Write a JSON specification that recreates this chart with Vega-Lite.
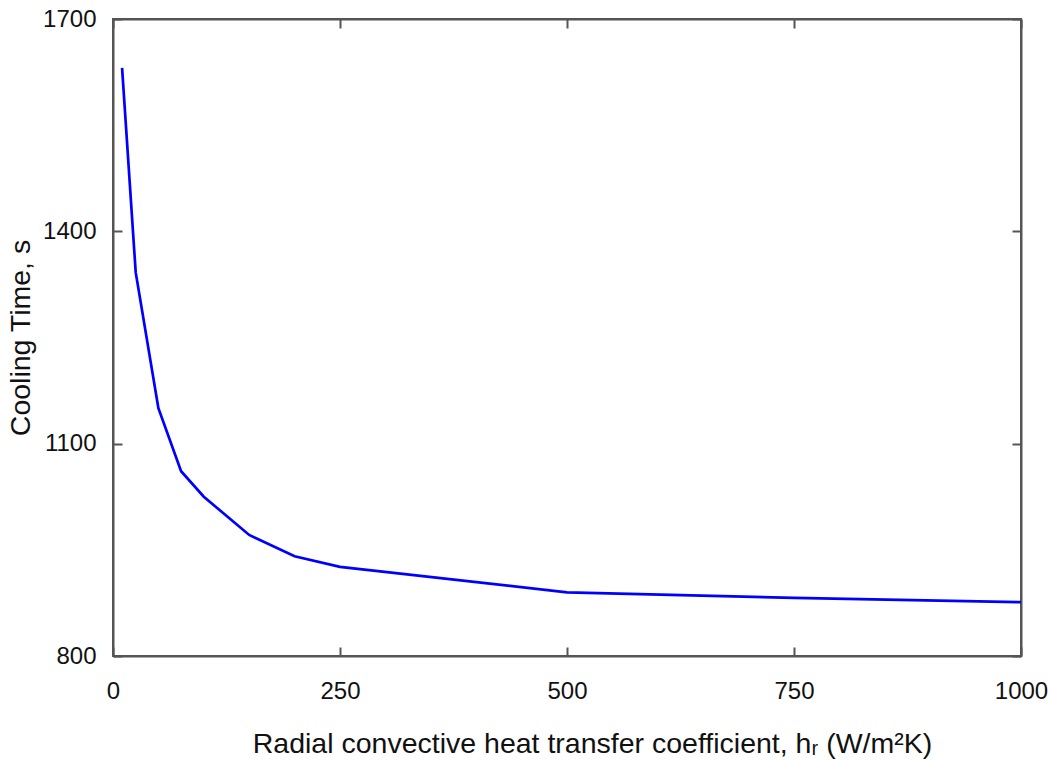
{
  "$schema": "https://vega.github.io/schema/vega-lite/v6.json",
  "width": 908,
  "height": 637,
  "autosize": {"type": "none"},
  "padding": {"left": 113, "top": 19, "right": 27, "bottom": 105},
  "background": "white",
  "config": {
    "font": "Liberation Sans",
    "view": {"stroke": "#555555", "strokeWidth": 2},
    "axis": {
      "grid": false,
      "labelFlush": false,
      "domainColor": "#555555",
      "domainWidth": 2,
      "tickColor": "#555555",
      "tickWidth": 2,
      "tickSize": -9,
      "labelFont": "Liberation Sans",
      "labelFontSize": 24,
      "labelColor": "#111111",
      "titleFont": "Liberation Sans",
      "titleFontSize": 28.5,
      "titleFontWeight": "normal",
      "titleColor": "#111111"
    }
  },
  "data": {
    "values": [
      {"h": 10, "t": 1631},
      {"h": 25, "t": 1342},
      {"h": 50, "t": 1150},
      {"h": 75, "t": 1061},
      {"h": 100, "t": 1025},
      {"h": 150, "t": 971},
      {"h": 200, "t": 941},
      {"h": 250, "t": 926},
      {"h": 500, "t": 890},
      {"h": 750, "t": 882},
      {"h": 1000, "t": 876}
    ]
  },
  "resolve": {"axis": {"x": "independent", "y": "independent"}},
  "layer": [
    {
      "mark": {"type": "line", "color": "#0000ff", "strokeWidth": 2.7},
      "encoding": {
        "x": {
          "field": "h", "type": "quantitative",
          "scale": {"domain": [0, 1000], "nice": false},
          "axis": {
            "values": [0, 250, 500, 750, 1000],
            "format": "d",
            "labelPadding": 32,
            "title": "Radial convective heat transfer coefficient, hᵣ (W/m²K)",
            "titleX": 479,
            "titleAlign": "center",
            "titlePadding": 26
          }
        },
        "y": {
          "field": "t", "type": "quantitative",
          "scale": {"domain": [800, 1700], "nice": false, "zero": false},
          "axis": {
            "values": [800, 1100, 1400, 1700],
            "format": "d",
            "labelPadding": 26,
            "title": "Cooling Time, s",
            "titlePadding": 7
          }
        }
      }
    },
    {
      "mark": {"type": "line", "opacity": 0},
      "encoding": {
        "x": {
          "field": "h", "type": "quantitative",
          "scale": {"domain": [0, 1000], "nice": false},
          "axis": {"orient": "top", "values": [0, 250, 500, 750, 1000], "labels": false, "title": null}
        },
        "y": {
          "field": "t", "type": "quantitative",
          "scale": {"domain": [800, 1700], "nice": false, "zero": false},
          "axis": {"orient": "right", "values": [800, 1100, 1400, 1700], "labels": false, "title": null}
        }
      }
    }
  ]
}
